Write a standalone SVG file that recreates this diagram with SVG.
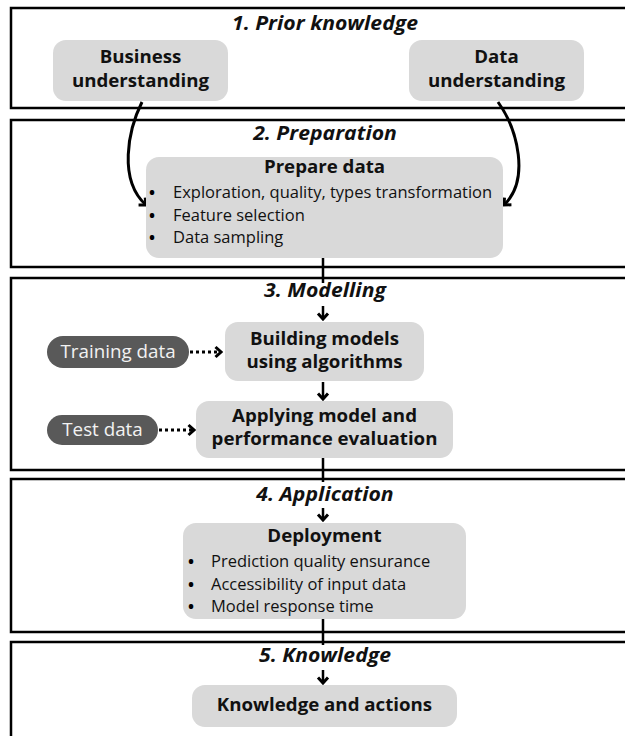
<svg xmlns="http://www.w3.org/2000/svg" width="625" height="736" viewBox="0 0 625 736">
  <style>
    .frame { fill: none; stroke: #000; stroke-width: 2.5; }
    .stage { font-family: "Open Sans", "DejaVu Sans", sans-serif; font-size: 21.2px; font-weight: bold; font-style: italic; fill: #111; text-anchor: middle; }
    .box { fill: #d9d9d9; }
    .pill { fill: #595959; }
    .head { font-family: "Open Sans", "DejaVu Sans", sans-serif; font-size: 18.7px; font-weight: bold; fill: #111; text-anchor: middle; }
    .item { font-family: "Open Sans", "DejaVu Sans", sans-serif; font-size: 16.5px; fill: #111; }
    .dot { font-family: "Open Sans", "DejaVu Sans", sans-serif; font-size: 16px; font-weight: bold; fill: #000; text-anchor: middle; }
    .pilltext { font-family: "Open Sans", "DejaVu Sans", sans-serif; font-size: 18.8px; fill: #f2f2f2; text-anchor: middle; }
    .link { fill: none; stroke: #000; stroke-width: 2.5; }
    .curve { fill: none; stroke: #000; stroke-width: 3; }
    .dotted { fill: none; stroke: #000; stroke-width: 3; stroke-dasharray: 3 3; }
  </style>
  <defs>
    <marker id="head" viewBox="-8 -7 10 14" refX="0" refY="0" markerWidth="10" markerHeight="14" orient="auto" markerUnits="userSpaceOnUse">
      <path d="M-5.5,-5 L0,0 L-5.5,5" fill="none" stroke="#000" stroke-width="3"/>
    </marker>
  </defs>

  <rect width="625" height="736" fill="#fff"/>

  <!-- stage frames (open to the right) -->
  <g id="stages">
    <rect class="frame" x="11" y="8" width="700" height="100"/>
    <rect class="frame" x="11" y="120" width="700" height="147"/>
    <rect class="frame" x="11" y="278" width="700" height="192"/>
    <rect class="frame" x="11" y="479" width="700" height="153"/>
    <rect class="frame" x="11" y="642" width="700" height="200"/>
  </g>

  <!-- connectors -->
  <g id="connectors">
    <path class="curve" d="M142,102 C128,130 118,180 146,205" marker-end="url(#head)"/>
    <path class="curve" d="M498,102 C518,130 530,180 504,205" marker-end="url(#head)"/>
    <path class="link" d="M323,258 L323,283"/>
    <path class="link" d="M323,306 L323,319" marker-end="url(#head)"/>
    <path class="link" d="M323,382 L323,399" marker-end="url(#head)"/>
    <path class="link" d="M323,458 L323,482"/>
    <path class="link" d="M323,508 L323,520" marker-end="url(#head)"/>
    <path class="link" d="M323,619 L323,645"/>
    <path class="link" d="M323,670 L323,683" marker-end="url(#head)"/>
    <path class="dotted" d="M190,352 L221,352" marker-end="url(#head)"/>
    <path class="dotted" d="M159,430 L194,430" marker-end="url(#head)"/>
  </g>

  <!-- stage titles -->
  <g id="titles">
    <text class="stage" transform="translate(325,30) scale(1,0.9)">1. Prior knowledge</text>
    <text class="stage" transform="translate(325,140) scale(1,0.9)">2. Preparation</text>
    <text class="stage" transform="translate(325,297) scale(1,0.9)">3. Modelling</text>
    <text class="stage" transform="translate(325,501) scale(1,0.9)">4. Application</text>
    <text class="stage" transform="translate(325,662) scale(1,0.9)">5. Knowledge</text>
  </g>

  <g id="business-understanding">
    <rect class="box" x="53" y="40" width="175" height="61" rx="13"/>
    <text class="head" transform="translate(140.5,63) scale(1,0.94)">Business</text>
    <text class="head" transform="translate(140.5,87) scale(1,0.94)">understanding</text>
  </g>

  <g id="data-understanding">
    <rect class="box" x="409" y="40" width="175" height="61" rx="13"/>
    <text class="head" transform="translate(496.5,63) scale(1,0.94)">Data</text>
    <text class="head" transform="translate(496.5,87) scale(1,0.94)">understanding</text>
  </g>

  <g id="prepare-data">
    <rect class="box" x="146" y="157" width="357" height="101" rx="13"/>
    <text class="head" transform="translate(324.5,173) scale(1,0.94)">Prepare data</text>
    <text class="dot" x="152" y="198">•</text>
    <text class="item" x="173" y="198">Exploration, quality, types transformation</text>
    <text class="dot" x="152" y="221">•</text>
    <text class="item" x="173" y="221">Feature selection</text>
    <text class="dot" x="152" y="243">•</text>
    <text class="item" x="173" y="243">Data sampling</text>
  </g>

  <g id="training-data">
    <rect class="pill" x="47" y="336" width="142" height="32" rx="16"/>
    <text class="pilltext" transform="translate(118,358) scale(1,0.94)">Training data</text>
  </g>

  <g id="building-models">
    <rect class="box" x="225" y="322" width="199" height="59" rx="13"/>
    <text class="head" transform="translate(324.5,345) scale(1,0.94)">Building models</text>
    <text class="head" transform="translate(324.5,368) scale(1,0.94)">using algorithms</text>
  </g>

  <g id="test-data">
    <rect class="pill" x="47" y="415" width="111" height="30" rx="15"/>
    <text class="pilltext" transform="translate(102.5,436) scale(1,0.94)">Test data</text>
  </g>

  <g id="applying-model">
    <rect class="box" x="196" y="401" width="257" height="57" rx="13"/>
    <text class="head" transform="translate(324.5,422) scale(1,0.94)">Applying model and</text>
    <text class="head" transform="translate(324.5,445) scale(1,0.94)">performance evaluation</text>
  </g>

  <g id="deployment">
    <rect class="box" x="183" y="523" width="283" height="96" rx="13"/>
    <text class="head" transform="translate(324.5,542) scale(1,0.94)">Deployment</text>
    <text class="dot" x="191" y="567">•</text>
    <text class="item" x="211" y="567">Prediction quality ensurance</text>
    <text class="dot" x="191" y="590">•</text>
    <text class="item" x="211" y="590">Accessibility of input data</text>
    <text class="dot" x="191" y="612">•</text>
    <text class="item" x="211" y="612">Model response time</text>
  </g>

  <g id="knowledge-and-actions">
    <rect class="box" x="192" y="685" width="265" height="42" rx="13"/>
    <text class="head" transform="translate(324.5,711) scale(1,0.94)">Knowledge and actions</text>
  </g>
</svg>
